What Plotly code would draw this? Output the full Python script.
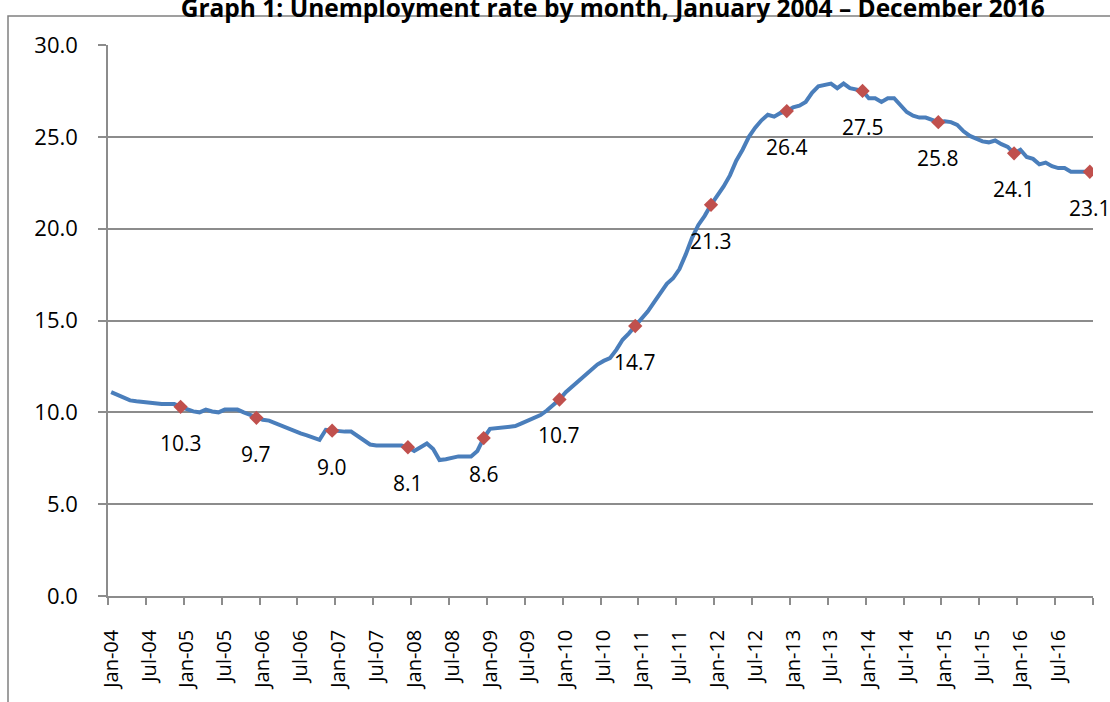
import plotly.graph_objects as go

# ---- data ----
years = ["04", "05", "06", "07", "08", "09", "10", "11", "12", "13", "14", "15", "16"]
month_names = ["Jan", "Feb", "Mar", "Apr", "May", "Jun", "Jul", "Aug", "Sep", "Oct", "Nov", "Dec"]
months = [f"{m}-{y}" for y in years for m in month_names]

rate = [
    # 2004
    11.1, 10.95, 10.85, 10.65, 10.6, 10.55, 10.5, 10.45, 10.45, 10.45, 10.45, 10.3,
    # 2005
    10.15, 10.05, 10.0, 10.15, 10.05, 10.0, 10.15, 10.15, 10.15, 10.0, 9.85, 9.7,
    # 2006
    9.6, 9.55, 9.4, 9.3, 9.15, 9.0, 8.85, 8.75, 8.6, 8.5, 9.05, 9.0,
    # 2007
    8.95, 8.95, 8.95, 8.7, 8.45, 8.25, 8.2, 8.2, 8.2, 8.2, 8.2, 8.1,
    # 2008
    7.9, 8.1, 8.3, 8.0, 7.4, 7.45, 7.55, 7.6, 7.6, 7.6, 7.9, 8.6,
    # 2009
    9.1, 9.15, 9.15, 9.2, 9.25, 9.4, 9.55, 9.7, 9.85, 10.1, 10.4, 10.7,
    # 2010
    11.1, 11.4, 11.7, 12.0, 12.3, 12.6, 12.8, 12.95, 13.4, 13.95, 14.3, 14.7,
    # 2011
    15.1, 15.5, 16.0, 16.5, 17.0, 17.3, 17.8, 18.6, 19.5, 20.2, 20.7, 21.3,
    # 2012
    21.8, 22.3, 22.9, 23.7, 24.3, 25.0, 25.5, 25.9, 26.2, 26.1, 26.3, 26.4,
    # 2013
    26.6, 26.7, 26.9, 27.4, 27.75, 27.82, 27.9, 27.65, 27.9, 27.65, 27.6, 27.5,
    # 2014
    27.1, 27.1, 26.9, 27.1, 27.1, 26.75, 26.35, 26.15, 26.05, 26.05, 25.9, 25.8,
    # 2015
    25.85, 25.8, 25.65, 25.3, 25.05, 24.9, 24.75, 24.7, 24.8, 24.6, 24.45, 24.1,
    # 2016
    24.3, 23.9, 23.8, 23.5, 23.6, 23.4, 23.3, 23.3, 23.1, 23.1, 23.1, 23.1,
]

tick_labels = ["Jan-04", "Jul-04", "Jan-05", "Jul-05", "Jan-06", "Jul-06", "Jan-07", "Jul-07",
               "Jan-08", "Jul-08", "Jan-09", "Jul-09", "Jan-10", "Jul-10", "Jan-11", "Jul-11",
               "Jan-12", "Jul-12", "Jan-13", "Jul-13", "Jan-14", "Jul-14", "Jan-15", "Jul-15",
               "Jan-16", "Jul-16"]
y_ticks = [0, 5, 10, 15, 20, 25, 30]

title_text = "Graph 1: Unemployment rate by month, January 2004 \u2013 December 2016"

# ---- derived ----
x_idx = list(range(len(months)))
tick_vals = [months.index(t) for t in tick_labels]
mark_idx = [i for i, m in enumerate(months) if m.startswith("Dec")]
mark_vals = [rate[i] for i in mark_idx]

FONT = "Open Sans"
LINE_COLOR = "#4A7EBB"
MARK_COLOR = "#C0504D"
GRID = "#8C8C8C"

fig = go.Figure()
fig.add_trace(go.Scatter(
    x=x_idx, y=rate, mode="lines",
    line=dict(color=LINE_COLOR, width=4),
    hoverinfo="skip", showlegend=False,
))
fig.add_trace(go.Scatter(
    x=mark_idx, y=mark_vals, mode="markers",
    marker=dict(symbol="diamond", color=MARK_COLOR, size=11),
    showlegend=False,
))

for i, v in zip(mark_idx, mark_vals):
    fig.add_annotation(
        x=i, y=v, text=f"{v:.1f}", showarrow=False,
        xanchor="center", yanchor="middle", yshift=-36,
        font=dict(family=FONT, size=21, color="black"),
    )

fig.update_layout(
    width=1110, height=702,
    margin=dict(l=108, r=17, t=45, b=106),
    paper_bgcolor="white", plot_bgcolor="white",
    title=dict(
        text=f"<b>{title_text}</b>",
        x=0.552, xanchor="center", y=0.988, yanchor="middle", yref="container",
        font=dict(family=FONT, size=24.5, color="black"),
    ),
    font=dict(family=FONT, color="black"),
)

fig.update_xaxes(
    range=[-0.5, len(months) - 0.5],
    tickmode="array", tickvals=tick_vals, ticktext=tick_labels,
    tickangle=-90, ticks="", tickfont=dict(family=FONT, size=20, color="black"),
    ticklabelstandoff=24,
    showgrid=False, zeroline=False,
    showline=True, linecolor=GRID, linewidth=1.5,
    minor=dict(tickmode="array", tickvals=[v - 0.5 for v in tick_vals] + [len(months) - 0.5],
               ticks="outside", ticklen=7, tickcolor=GRID, tickwidth=1.5, showgrid=False),
)
fig.update_yaxes(
    range=[0, 30], tickmode="array", tickvals=y_ticks, tickformat=".1f",
    ticks="outside", ticklen=8, tickcolor=GRID, tickwidth=1.5,
    tickfont=dict(family=FONT, size=22, color="black"),
    ticklabelstandoff=16,
    showgrid=True, gridcolor=GRID, gridwidth=1.5,
    zeroline=False, showline=True, linecolor=GRID, linewidth=1.5,
)

# outer chart border (right and bottom edges fall outside the picture)
fig.add_shape(type="rect", xref="paper", yref="paper",
              x0=-100 / 985, x1=1.1, y0=-0.3, y1=1 + 29 / 551,
              line=dict(color="#808080", width=1.5), fillcolor="rgba(0,0,0,0)", layer="below")

fig.write_html("out.html", config={"displayModeBar": False},
               post_script="document.body.style.margin='0';")
